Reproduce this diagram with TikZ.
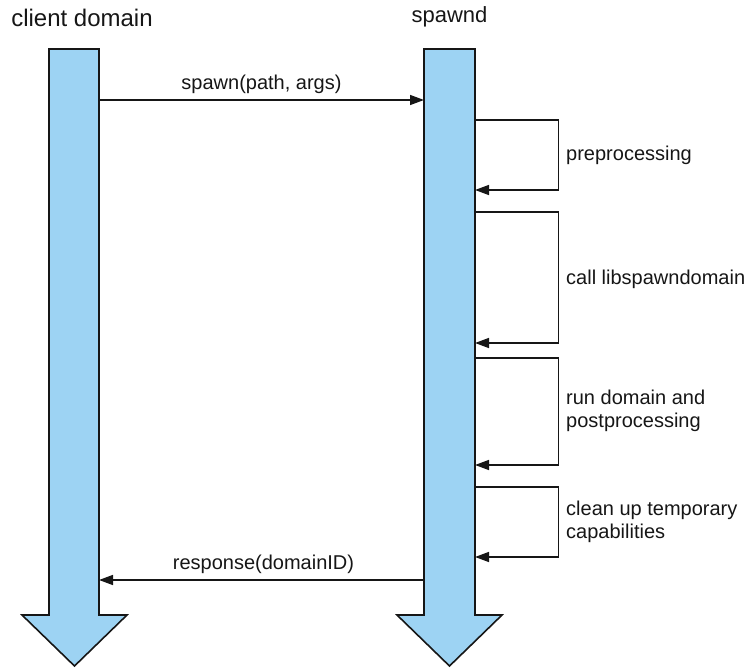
\documentclass[tikz,border=0pt]{standalone}
\usepackage{fontspec}
\setmainfont{Liberation Sans}
\usetikzlibrary{arrows.meta}
\definecolor{lifefill}{RGB}{157,211,243}
\definecolor{ink}{RGB}{22,22,22}
\begin{document}
\begin{tikzpicture}[x=1pt,y=-1pt,
  lifeline/.style={fill=lifefill,draw=ink,line width=1.6pt,line join=miter},
  msg/.style={draw=ink,line width=1.4pt,-{Triangle[length=14pt,width=10pt]}},
  lbl/.style={font=\fontsize{20}{23}\selectfont,inner sep=0pt,text=ink},
  note/.style={lbl,anchor=base west,align=left},
  head/.style={font=\fontsize{#1}{#1}\selectfont,inner sep=0pt,anchor=base,text=ink}]
\useasboundingbox (0,0) rectangle (750,668);

% lifelines as downward block arrows
\draw[lifeline] (49,49) -- (99,49) -- (99,615) -- (127,615) -- (74.5,666)
  -- (22,615) -- (49,615) -- cycle;
\draw[lifeline] (424,49) -- (475,49) -- (475,615) -- (502,615) -- (449.5,666)
  -- (397,615) -- (424,615) -- cycle;

% headings
\node[head=24] (tclient) at (82,27) {client domain};
\node[head=22] (tspawnd) at (449.5,23) {spawnd};

% message end points on the lifelines
\coordinate (cReq) at (99,100);
\coordinate (sReq) at (424,100);
\coordinate (cRes) at (99,580);
\coordinate (sRes) at (424,580);

\draw[msg] (cReq) -- (sReq);
\node[lbl,anchor=base] (lreq) at (261.5,90) {spawn(path, args)};
\draw[msg] (sRes) -- (cRes);
\node[lbl,anchor=base] (lres) at (263.5,569) {response(domainID)};

% self calls on spawnd
\coordinate (p1a) at (475,120);
\coordinate (p1b) at (475,190);
\coordinate (p2a) at (475,212);
\coordinate (p2b) at (475,343);
\coordinate (p3a) at (475,358);
\coordinate (p3b) at (475,465);
\coordinate (p4a) at (475,487);
\coordinate (p4b) at (475,557);

\draw[msg] (p1a) -- ++(83.5,0) |- (p1b);
\draw[msg] (p2a) -- ++(83.5,0) |- (p2b);
\draw[msg] (p3a) -- ++(83.5,0) |- (p3b);
\draw[msg] (p4a) -- ++(83.5,0) |- (p4b);

% notes: the base anchor of a two-line note sits on its last line
\node[note] (n1) at (566,161) {preprocessing};
\node[note] (n2) at (566,285) {call libspawndomain};
\node[note] (n3) at (566,427) {run domain and\\postprocessing};
\node[note] (n4) at (566,538) {clean up temporary\\capabilities};
\end{tikzpicture}
\end{document}
